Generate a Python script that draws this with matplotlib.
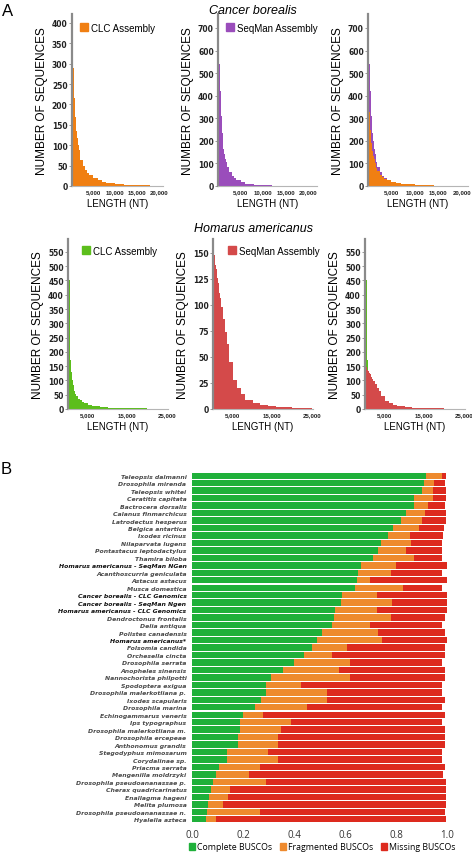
import matplotlib
matplotlib.use("Agg")
import matplotlib.pyplot as plt
import numpy as np
from matplotlib.patches import Patch

# ---------------- DATA ----------------
# Panel A: length histograms (bin edges in nt, counts per bin)
edges_cb = [200, 300, 400, 500, 600, 700, 800, 900, 1000, 1200, 1400, 1600, 1800, 2000,
            2500, 3000, 3500, 4000, 5000, 6000, 7000, 8000, 10000, 12000, 14000, 16000,
            18000, 20000, 21000]
cb_clc = [400, 330, 290, 250, 215, 190, 170, 155, 135, 118, 100, 88, 78, 65, 50, 40, 33,
          26, 19, 15, 11, 7, 4, 3, 2, 2, 1, 1]
cb_seqman = [700, 540, 480, 420, 360, 310, 270, 235, 200, 165, 140, 120, 105, 82, 60, 45,
             35, 25, 16, 11, 8, 5, 3, 2, 1, 1, 1, 0]

edges_ha = [200, 300, 400, 500, 600, 700, 800, 900, 1000, 1200, 1400, 1600, 1800, 2000,
            2500, 3000, 3500, 4000, 5000, 6000, 7000, 8000, 10000, 12000, 14000, 16000,
            18000, 20000, 22000, 25000]
ha_clc = [550, 450, 240, 200, 170, 150, 130, 115, 100, 85, 72, 62, 54, 45, 36, 30, 25,
          20, 15, 12, 9, 7, 5, 4, 3, 2, 2, 1, 1]
ha_seqman = [155, 148, 142, 140, 138, 136, 134, 130, 126, 121, 116, 111, 106, 98, 86, 74,
             62, 45, 28, 20, 14, 9, 6, 4, 3, 2, 2, 1, 1]

# Panel B: BUSCO completeness
species = ["Teleopsis dalmanni", "Drosophila mirenda", "Teleopsis whitei", "Ceratitis capitata",
           "Bactrocera dorsalis", "Calanus finmarchicus", "Latrodectus hesperus",
           "Belgica antartica", "Ixodes ricinus", "Nilaparvata lugens",
           "Pontastacus leptodactylus", "Thamira biloba", "Homarus americanus - SeqMan NGen",
           "Acanthoscurria geniculata", "Astacus astacus", "Musca domestica",
           "Cancer borealis - CLC Genomics", "Cancer borealis - SeqMan Ngen",
           "Homarus americanus - CLC Genomics", "Dendroctonus frontalis", "Delia antiqua",
           "Polistes canadensis", "Homarus americanus*", "Folsomia candida",
           "Orchesella cincta", "Drosophila serrata", "Anopheles sinensis",
           "Nannochorista philpotti", "Spodoptera exigua", "Drosophila malerkotliana p.",
           "Ixodes scapularis", "Drosophila marina", "Echinogammarus veneris",
           "Ips typographus", "Drosophila malerkotliana m.", "Drosophila ercepeae",
           "Anthonomus grandis", "Stegodyphus mimosarum", "Corydalinae sp.",
           "Priacma serrata", "Mengenilla moldrzyki", "Drosophila pseudoananassae p.",
           "Cherax quadricarinatus", "Enallagma hageni", "Melita plumosa",
           "Drosophila pseudoananassae n.", "Hyalella azteca"]
highlight = ["Homarus americanus - SeqMan NGen", "Cancer borealis - CLC Genomics",
             "Cancer borealis - SeqMan Ngen", "Homarus americanus - CLC Genomics",
             "Homarus americanus*"]
complete = [.918, .911, .902, .871, .871, .839, .820, .789, .770, .740, .731, .709, .663,
            .650, .647, .639, .588, .583, .562, .558, .548, .508, .489, .469, .439, .400,
            .358, .308, .290, .290, .271, .248, .199, .188, .188, .179, .179, .136, .136,
            .107, .093, .084, .075, .068, .063, .060, .055]
fragmented = [.061, .039, .043, .073, .056, .075, .083, .101, .084, .119, .108, .160, .136,
              .129, .050, .190, .136, .201, .162, .221, .150, .220, .255, .138, .110, .220,
              .220, .312, .137, .238, .257, .202, .078, .200, .160, .158, .158, .161, .201,
              .160, .129, .207, .074, .074, .060, .207, .038]
missing = [.017, .043, .053, .054, .065, .084, .093, .100, .132, .123, .143, .113, .201,
           .203, .303, .153, .276, .216, .276, .213, .284, .264, .256, .385, .443, .362,
           .414, .372, .555, .454, .464, .532, .715, .594, .644, .655, .655, .685, .645,
           .725, .764, .704, .846, .853, .875, .725, .905]
busco_legend = ["Complete BUSCOs", "Fragmented BUSCOs", "Missing BUSCOs"]

# ---------------- STYLE ----------------
W, H = 472, 853
C_ORANGE = "#F07F12"
C_PURPLE = "#9A4DBB"
C_LGREEN = "#5CBE1C"
C_RED = "#D44A4A"
B_GREEN = "#1FB03A"
B_ORANGE = "#EE8A2E"
B_RED = "#DD2A1E"
SANS = "Liberation Sans"

fig = plt.figure(figsize=(W / 100, H / 100), dpi=100)


def rect(l, r, top, bottom):
    return [l / W, 1 - bottom / H, (r - l) / W, (bottom - top) / H]


def style_hist(ax, xmax, ymax, yticks, xticks):
    ax.set_xlim(0, xmax)
    ax.set_ylim(0, ymax)
    for s in ("top", "right"):
        ax.spines[s].set_visible(False)
    ax.spines["left"].set_color("#8a8a8a")
    ax.spines["left"].set_linewidth(1.6)
    ax.spines["bottom"].set_color("#b5b5b5")
    ax.spines["bottom"].set_linewidth(0.8)
    ax.set_yticks(yticks)
    ax.set_yticklabels([str(v) for v in yticks], fontsize=5.5, fontweight="bold",
                       color="#222222")
    ax.set_xticks(xticks)
    ax.set_xticklabels([f"{v:,}" for v in xticks], fontsize=4.4, fontweight="bold",
                       family=SANS, color="#222222")
    ax.tick_params(axis="y", length=2, width=0.6, color="#888888", pad=1)
    ax.tick_params(axis="x", length=0, pad=2)
    ax.set_ylabel("NUMBER OF SEQUENCES", fontsize=8.5, family=SANS, labelpad=3)
    ax.set_xlabel("LENGTH (NT)", fontsize=7, family=SANS, labelpad=3)


def add_leg(ax, color, label, x, y):
    ax.legend(handles=[Patch(color=color, label=label)], loc="upper left",
              bbox_to_anchor=(x, y), frameon=False, handlelength=0.8,
              handleheight=0.9, handletextpad=0.3, borderaxespad=0, borderpad=0,
              prop={"family": SANS, "size": 7})


top_xt = [5000, 10000, 15000, 20000]
bot_xt = [5000, 15000, 25000]

# Top row: Cancer borealis
ax1 = fig.add_axes(rect(71.7, 163, 15, 187))
ax1.stairs(cb_clc, edges_cb, fill=True, color=C_ORANGE)
style_hist(ax1, 21000, 422, list(range(0, 401, 50)), top_xt)
add_leg(ax1, C_ORANGE, "CLC Assembly", 0.09, 0.95)

ax2 = fig.add_axes(rect(218, 317, 15, 187))
ax2.stairs(cb_seqman, edges_cb, fill=True, color=C_PURPLE)
style_hist(ax2, 22000, 762, list(range(0, 701, 100)), top_xt)
add_leg(ax2, C_PURPLE, "SeqMan Assembly", 0.08, 0.95)

ax3 = fig.add_axes(rect(368, 468, 15, 187))
ax3.stairs(cb_seqman, edges_cb, fill=True, color=C_PURPLE)
ax3.stairs(cb_clc, edges_cb, fill=True, color=C_ORANGE)
style_hist(ax3, 21300, 762, list(range(0, 701, 100)), top_xt)

# Bottom row: Homarus americanus
ax4 = fig.add_axes(rect(68, 168, 240, 410))
ax4.stairs(ha_clc, edges_ha, fill=True, color=C_LGREEN)
style_hist(ax4, 25300, 595, list(range(0, 551, 50)), bot_xt)
add_leg(ax4, C_LGREEN, "CLC Assembly", 0.14, 0.96)

ax5 = fig.add_axes(rect(213, 313, 240, 410))
ax5.stairs(ha_seqman, edges_ha, fill=True, color=C_RED)
style_hist(ax5, 25300, 163, list(range(0, 151, 25)), bot_xt)
add_leg(ax5, C_RED, "SeqMan Assembly", 0.15, 0.96)

ax6 = fig.add_axes(rect(365, 465, 240, 410))
ax6.stairs(ha_clc, edges_ha, fill=True, color=C_LGREEN)
ax6.stairs(ha_seqman, edges_ha, fill=True, color=C_RED)
style_hist(ax6, 25300, 595, list(range(0, 551, 50)), bot_xt)

fig.text(253 / W, 1 - 11 / H, "Cancer borealis", fontsize=9, style="italic", family=SANS,
         ha="center", va="center")
fig.text(253 / W, 1 - 229 / H, "Homarus americanus", fontsize=9, style="italic",
         family=SANS, ha="center", va="center")
fig.text(2 / W, 1 - 11 / H, "A", fontsize=12, family=SANS, ha="left", va="center")
fig.text(1 / W, 1 - 470 / H, "B", fontsize=12, family=SANS, ha="left", va="center")

# Panel B: BUSCO bars
axb = fig.add_axes(rect(192, 447, 473, 824))
y = np.arange(len(species))
c = np.array(complete)
f = np.array(fragmented)
m = np.array(missing)
axb.barh(y, c, height=0.86, color=B_GREEN, linewidth=0)
axb.barh(y, f, left=c, height=0.86, color=B_ORANGE, linewidth=0)
axb.barh(y, m, left=c + f, height=0.86, color=B_RED, linewidth=0)
axb.set_ylim(len(species) - 0.5, -0.5)
axb.set_xlim(0, 1.0)
for s in axb.spines.values():
    s.set_visible(False)
axb.set_yticks(y)
axb.set_yticklabels(species, fontsize=4.4, fontweight="bold", style="italic")
for lab in axb.get_yticklabels():
    if lab.get_text() in highlight:
        lab.set_color("#111111")
    else:
        lab.set_color("#4a4a4a")
axb.tick_params(axis="y", length=0, pad=4)
axb.set_xticks([0, 0.2, 0.4, 0.6, 0.8, 1.0])
axb.set_xticklabels(["0.0", "0.2", "0.4", "0.6", "0.8", "1.0"], fontsize=7,
                    family="Open Sans", color="#333333")
axb.tick_params(axis="x", length=0, pad=4)

handles = [Patch(color=B_GREEN, label=busco_legend[0]),
           Patch(color=B_ORANGE, label=busco_legend[1]),
           Patch(color=B_RED, label=busco_legend[2])]
fig.legend(handles=handles, loc="center left", bbox_to_anchor=(189 / W, 1 - 848 / H),
           ncol=3, frameon=False, handlelength=0.7, handleheight=0.9, handletextpad=0.2,
           columnspacing=0.9, borderaxespad=0, borderpad=0,
           prop={"family": "Open Sans", "size": 6.3})

fig.savefig("out.png", dpi=100)
